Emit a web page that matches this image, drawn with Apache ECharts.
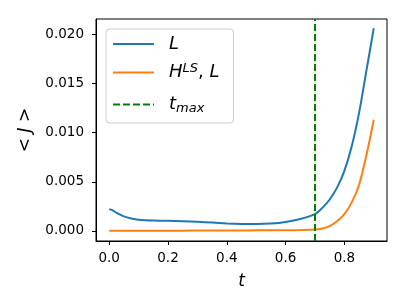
<!DOCTYPE html>
<html><head><meta charset="utf-8">
<script src="https://cdn.jsdelivr.net/npm/echarts@6/dist/echarts.min.js"></script>
<style>html,body{margin:0;padding:0;background:#fff}#c{width:407px;height:305px}</style>
</head><body><div id="c"></div>
<script>
const tValues = [0, 0.01, 0.025, 0.05, 0.075, 0.1, 0.15, 0.2, 0.25, 0.3, 0.35, 0.4, 0.45, 0.5, 0.55, 0.6, 0.65, 0.7, 0.725, 0.75, 0.775, 0.8, 0.825, 0.85, 0.875, 0.9];
const L = [0.00222, 0.00212, 0.00185, 0.00148, 0.00127, 0.00115, 0.00106, 0.00103, 0.00099, 0.00093, 0.00085, 0.00077, 0.00072, 0.00071, 0.00076, 0.00092, 0.00122, 0.00172, 0.00235, 0.0032, 0.0044, 0.0061, 0.0086, 0.0120, 0.0163, 0.0206];
const HLS = [0.00002, 0.00002, 0.00002, 0.00002, 0.00002, 0.00002, 0.00003, 0.00003, 0.00003, 0.00004, 0.00004, 0.00005, 0.00005, 0.00006, 0.00006, 0.00007, 0.0001, 0.00015, 0.00026, 0.0005, 0.00098, 0.0017, 0.0029, 0.0047, 0.0077, 0.0113];
const tMax = 0.7;
const xTicks = [0, 0.2, 0.4, 0.6, 0.8];
const yTicks = [0, 0.005, 0.01, 0.015, 0.02];
const xMin = -0.045, xMax = 0.945, yMin = -0.00102, yMax = 0.02154;

const pair = (xs, ys) => xs.map((x, i) => [x, ys[i]]);
const chart = echarts.init(document.getElementById('c'), null, {renderer: 'canvas'});
const font = 'DejaVu Sans';
chart.setOption({
  animation: false,
  grid: {left: 96, right: 20, top: 19, bottom: 64, containLabel: false, show: true, borderColor: '#000', borderWidth: 1, backgroundColor: 'transparent'},
  xAxis: {
    type: 'value', min: xMin, max: xMax,
    axisLine: {show: true, onZero: false, lineStyle: {color: '#000', width: 1}},
    axisTick: {show: true, length: 4, lineStyle: {color: '#000'}, customValues: xTicks},
    axisLabel: {color: '#000', fontFamily: font, fontSize: 13.5, margin: 10, customValues: xTicks, formatter: v => v.toFixed(1)},
    splitLine: {show: false},
    name: '{i|t}', nameLocation: 'middle', nameGap: 32,
    nameTextStyle: {rich: {i: {fontFamily: font, fontStyle: 'italic', fontSize: 17, color: '#000'}}}
  },
  yAxis: {
    type: 'value', min: yMin, max: yMax,
    axisLine: {show: true, onZero: false, lineStyle: {color: '#000', width: 1}},
    axisTick: {show: true, length: 4, lineStyle: {color: '#000'}, customValues: yTicks},
    axisLabel: {color: '#000', fontFamily: font, fontSize: 13.5, margin: 12, customValues: yTicks, formatter: v => v.toFixed(3)},
    splitLine: {show: false},
    name: '{n|< }{i|J}{n| >}', nameLocation: 'middle', nameGap: 62, nameRotate: 90,
    nameTextStyle: {rich: {
      n: {fontFamily: font, fontSize: 17, color: '#000'},
      i: {fontFamily: font, fontStyle: 'italic', fontSize: 17, color: '#000'}
    }}
  },
  legend: {
    show: true, orient: 'vertical', left: 106, top: 29,
    padding: [6, 14, 8, 6], itemGap: 9, itemWidth: 41, itemHeight: 14,
    backgroundColor: 'rgba(255,255,255,0.8)', borderColor: '#cccccc', borderWidth: 1, borderRadius: 4,
    itemStyle: {opacity: 0},
    data: ['L', 'HLS', 'tmax'],
    formatter: function (name) {
      if (name === 'L') return '{i|L}';
      if (name === 'HLS') return '{i|H}{sup|LS}{n|, }{i|L}';
      return '{i|t}{sub|max}';
    },
    textStyle: {
      padding: [0, 0, 0, 10],
      rich: {
        i: {fontFamily: font, fontStyle: 'italic', fontSize: 18, color: '#000', lineHeight: 21},
        n: {fontFamily: font, fontSize: 18, color: '#000', lineHeight: 21},
        sup: {fontFamily: font, fontStyle: 'italic', fontSize: 13, color: '#000', verticalAlign: 'top', lineHeight: 21, padding: [0, 0, 8, 0]},
        sub: {fontFamily: font, fontStyle: 'italic', fontSize: 13, color: '#000', verticalAlign: 'bottom', lineHeight: 21, padding: [10, 0, 0, 0]}
      }
    }
  },
  series: [
    {name: 'L', type: 'line', data: pair(tValues, L), showSymbol: false, symbol: 'none', smooth: 0.3,
     lineStyle: {color: '#1f77b4', width: 2}, itemStyle: {color: '#1f77b4'}, z: 3},
    {name: 'HLS', type: 'line', data: pair(tValues, HLS), showSymbol: false, symbol: 'none', smooth: 0.3,
     lineStyle: {color: '#ff7f0e', width: 2}, itemStyle: {color: '#ff7f0e'}, z: 3},
    {name: 'tmax', type: 'line', data: [[tMax, yMin], [tMax, yMax]], showSymbol: false, symbol: 'none',
     lineStyle: {color: '#008000', width: 2, type: [7, 3]}, itemStyle: {color: '#008000'}, z: 4}
  ]
});
</script></body></html>
